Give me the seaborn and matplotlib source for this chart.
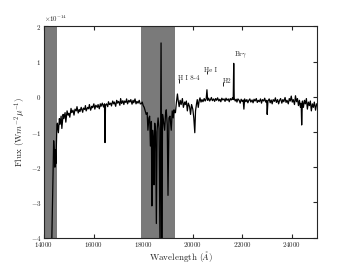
import matplotlib
matplotlib.use('Agg')
import matplotlib.pyplot as plt
import seaborn as sns
import numpy as np
import pandas as pd

# spectrum, flux in units of 1e-14 W m^-2 um^-1
wave_blue = [14300, 14390, 14420, 14440, 14460, 14480, 14500, 14520]
flux_blue = [-4.6, -1.25, -1.6, -2.0, -1.5, -1.9, -1.4, -0.8]

wave_cont = [14540, 14580, 14620, 14650, 14690, 14720, 14770, 14800, 14850, 14880,
             14930, 14970, 15000, 15040, 15090, 15120, 15170, 15210, 15250, 15300,
             15330, 15380, 15420, 15450, 15500, 15560, 15590, 15640, 15670, 15700,
             15760, 15800, 15830, 15880, 15930, 15960, 16010, 16050, 16090, 16150,
             16180, 16230, 16270, 16300, 16350, 16400, 16440, 16460, 16480, 16520,
             16570, 16600, 16640, 16690, 16720, 16770, 16810, 16840, 16890, 16930,
             16960, 17010, 17060, 17090, 17130, 17180, 17220, 17250, 17300, 17330,
             17370, 17420, 17460, 17500, 17550, 17590, 17620, 17670, 17710, 17750,
             17790, 17840, 17880]
flux_cont = [-0.75, -1.02, -0.62, -0.78, -0.55, -0.9, -0.5, -0.62, -0.45, -0.72,
             -0.4, -0.52, -0.47, -0.58, -0.33, -0.45, -0.38, -0.52, -0.35, -0.4,
             -0.28, -0.46, -0.36, -0.42, -0.3, -0.44, -0.32, -0.36, -0.25, -0.4,
             -0.3, -0.34, -0.22, -0.38, -0.27, -0.31, -0.2, -0.35, -0.24, -0.3,
             -0.22, -0.34, -0.2, -0.27, -0.18, -0.29, -0.2, -1.3, -0.24, -0.2,
             -0.28, -0.14, -0.22, -0.18, -0.26, -0.12, -0.2, -0.15, -0.27, -0.1,
             -0.18, -0.13, -0.24, -0.05, -0.19, -0.11, -0.22, -0.12, -0.16, -0.06,
             -0.2, -0.1, -0.15, -0.08, -0.21, -0.1, -0.17, -0.06, -0.2, -0.13,
             -0.18, -0.1, -0.2]

wave_abs = [17920, 17960, 18000, 18040, 18080, 18120, 18160, 18190, 18230, 18260,
            18290, 18330, 18350, 18380, 18410, 18435, 18465, 18500, 18530, 18560,
            18600, 18640, 18680, 18720, 18750, 18780, 18820, 18865, 18900, 18930,
            18970, 19000, 19040, 19080, 19130, 19170, 19210, 19240, 19270]
flux_abs = [-0.2, -0.15, -0.25, -0.3, -0.4, -0.5, -0.45, -0.95, -0.6, -0.55,
            -1.4, -0.7, -3.1, -0.95, -1.2, -2.5, -0.75, -1.0, -3.6, -0.95,
            -0.6, -0.9, -4.5, 1.53, -4.5, -0.5, -0.7, -0.95, -0.5, -0.37,
            -0.8, -2.8, -0.6, -0.55, -0.95, -0.4, -0.6, -0.37, -0.45]

wave_red = [19300, 19340, 19380, 19410, 19450, 19490, 19530, 19580, 19620, 19670,
            19700, 19740, 19780, 19820, 19870, 19910, 19950, 20000, 20040, 20080,
            20110, 20150, 20180, 20220, 20260, 20290, 20330, 20370, 20410, 20460,
            20500, 20540, 20570, 20600, 20640, 20680, 20720, 20750, 20790, 20840,
            20880, 20920, 20960, 21000, 21050, 21090, 21130, 21170, 21210, 21260,
            21300, 21340, 21380, 21430, 21470, 21510, 21550, 21600, 21630, 21650,
            21670, 21710, 21750, 21780, 21820, 21870, 21910, 21950, 21990, 22030,
            22060, 22090, 22140, 22180, 22220, 22260, 22300, 22340, 22390, 22430,
            22470, 22510, 22560, 22600, 22640, 22680, 22730, 22770, 22810, 22860,
            22900, 22940, 22980, 23000, 23030, 23080, 23120, 23160, 23200, 23240,
            23290, 23330, 23370, 23420, 23460, 23500, 23540, 23590, 23630, 23670,
            23720, 23760, 23800, 23850, 23890, 23930, 23970, 24010, 24050, 24100,
            24140, 24180, 24220, 24260, 24300, 24340, 24370, 24390, 24420, 24460,
            24500, 24540, 24580, 24620, 24660, 24700, 24740, 24780, 24820, 24860,
            24900, 24950, 24990, 25050]
flux_red = [-0.45, -0.15, 0.08, -0.1, -0.28, -0.1, -0.22, -0.05, -0.3, -0.15,
            -0.22, -0.12, -0.4, -0.18, -0.28, -0.5, -0.22, -0.35, -0.6, -1.02,
            -0.4, -0.2, -0.08, -0.3, -0.1, -0.03, -0.15, -0.08, -0.14, -0.05,
            -0.12, -0.06, 0.2, -0.1, -0.04, -0.12, -0.07, -0.02, -0.11, -0.06,
            -0.13, -0.05, -0.1, -0.03, -0.12, -0.07, -0.14, -0.04, -0.09, -0.06,
            -0.13, -0.04, -0.1, -0.06, -0.14, -0.05, -0.09, -0.03, -0.08, 0.95,
            -0.04, -0.12, -0.07, -0.15, -0.06, -0.1, -0.18, -0.07, -0.13, -0.09,
            -0.35, -0.06, -0.14, -0.08, -0.17, -0.1, -0.06, -0.15, -0.09, -0.17,
            -0.07, -0.12, -0.05, -0.16, -0.1, -0.14, -0.06, -0.18, -0.08, -0.12,
            -0.04, -0.15, -0.1, -0.5, -0.12, -0.06, -0.17, -0.09, -0.2, -0.08,
            -0.13, -0.03, -0.16, -0.08, -0.2, -0.1, -0.05, -0.18, -0.08, -0.14,
            -0.02, -0.16, -0.1, -0.2, -0.05, -0.12, 0.02, -0.15, -0.08, -0.22,
            0.03, -0.14, -0.05, -0.25, -0.1, -0.3, -0.18, -0.8, -0.12, -0.3,
            -0.1, -0.2, -0.05, -0.35, -0.15, -0.25, -0.12, -0.4, -0.2, -0.3,
            -0.15, -0.38, -0.2, -0.3]

# masked (telluric) regions
bands = [(14000, 14520), (17910, 19285)]

# line identifications: label, text x, text baseline y, marker x, marker y
line_names = ['H I 8-4', 'He I', 'H2', r'Br$\gamma$']
line_text_x = [19400, 20450, 21220, 21660]
line_text_y = [0.49, 0.71, 0.40, 1.14]
line_mark_x = [19444, 20573, 21218]
line_mark_y = [0.40, 0.64, 0.31]


def main():
    sns.set_style('ticks')
    plt.rcParams.update({
        'font.family': 'serif',
        'font.serif': ['cmr10', 'DejaVu Serif'],
        'mathtext.fontset': 'cm',
        'axes.formatter.use_mathtext': True,
        'axes.unicode_minus': True,
        'xtick.direction': 'in',
        'ytick.direction': 'in',
        'xtick.top': True,
        'ytick.right': True,
        'xtick.major.size': 3,
        'ytick.major.size': 3,
        'xtick.major.pad': 2,
        'ytick.major.pad': 2,
        'xtick.labelsize': 5,
        'ytick.labelsize': 5,
        'axes.linewidth': 0.8,
    })

    wave = wave_blue + wave_cont + wave_abs + wave_red
    flux = flux_blue + flux_cont + flux_abs + flux_red
    df = pd.DataFrame({'wave': wave, 'flux': np.array(flux) * 1e-14})

    fig = plt.figure(figsize=(3.52, 2.64), dpi=100)
    ax = fig.add_axes([0.125, 0.1, 0.775, 0.8])

    for lo, hi in bands:
        ax.axvspan(lo, hi, color='#7a7a7a', lw=0, zorder=1)

    sns.lineplot(data=df, x='wave', y='flux', sort=False, estimator=None,
                 color='black', lw=0.9, ax=ax, zorder=2)

    for name, tx, ty in zip(line_names, line_text_x, line_text_y):
        ax.text(tx, ty * 1e-14, name, fontsize=5, ha='left', va='baseline')
    for mx, my in zip(line_mark_x, line_mark_y):
        ax.vlines(mx, my * 1e-14, (my + 0.1) * 1e-14, color='black', lw=0.6)

    ax.set_xlim(14000, 25000)
    ax.set_ylim(-4e-14, 2e-14)
    ax.set_xticks([14000, 16000, 18000, 20000, 22000, 24000])
    ax.set_yticks(np.array([-4, -3, -2, -1, 0, 1, 2]) * 1e-14)
    ax.yaxis.get_offset_text().set_fontsize(5)
    ax.set_xlabel(r'Wavelength ($\AA$)', fontsize=6.5, labelpad=0)
    ax.set_ylabel(r'Flux (W$m^{-2}\mu^{-1}$)', fontsize=6.5, labelpad=2)

    fig.savefig('out.png', dpi=100)
    plt.close(fig)


if __name__ == '__main__':
    main()
